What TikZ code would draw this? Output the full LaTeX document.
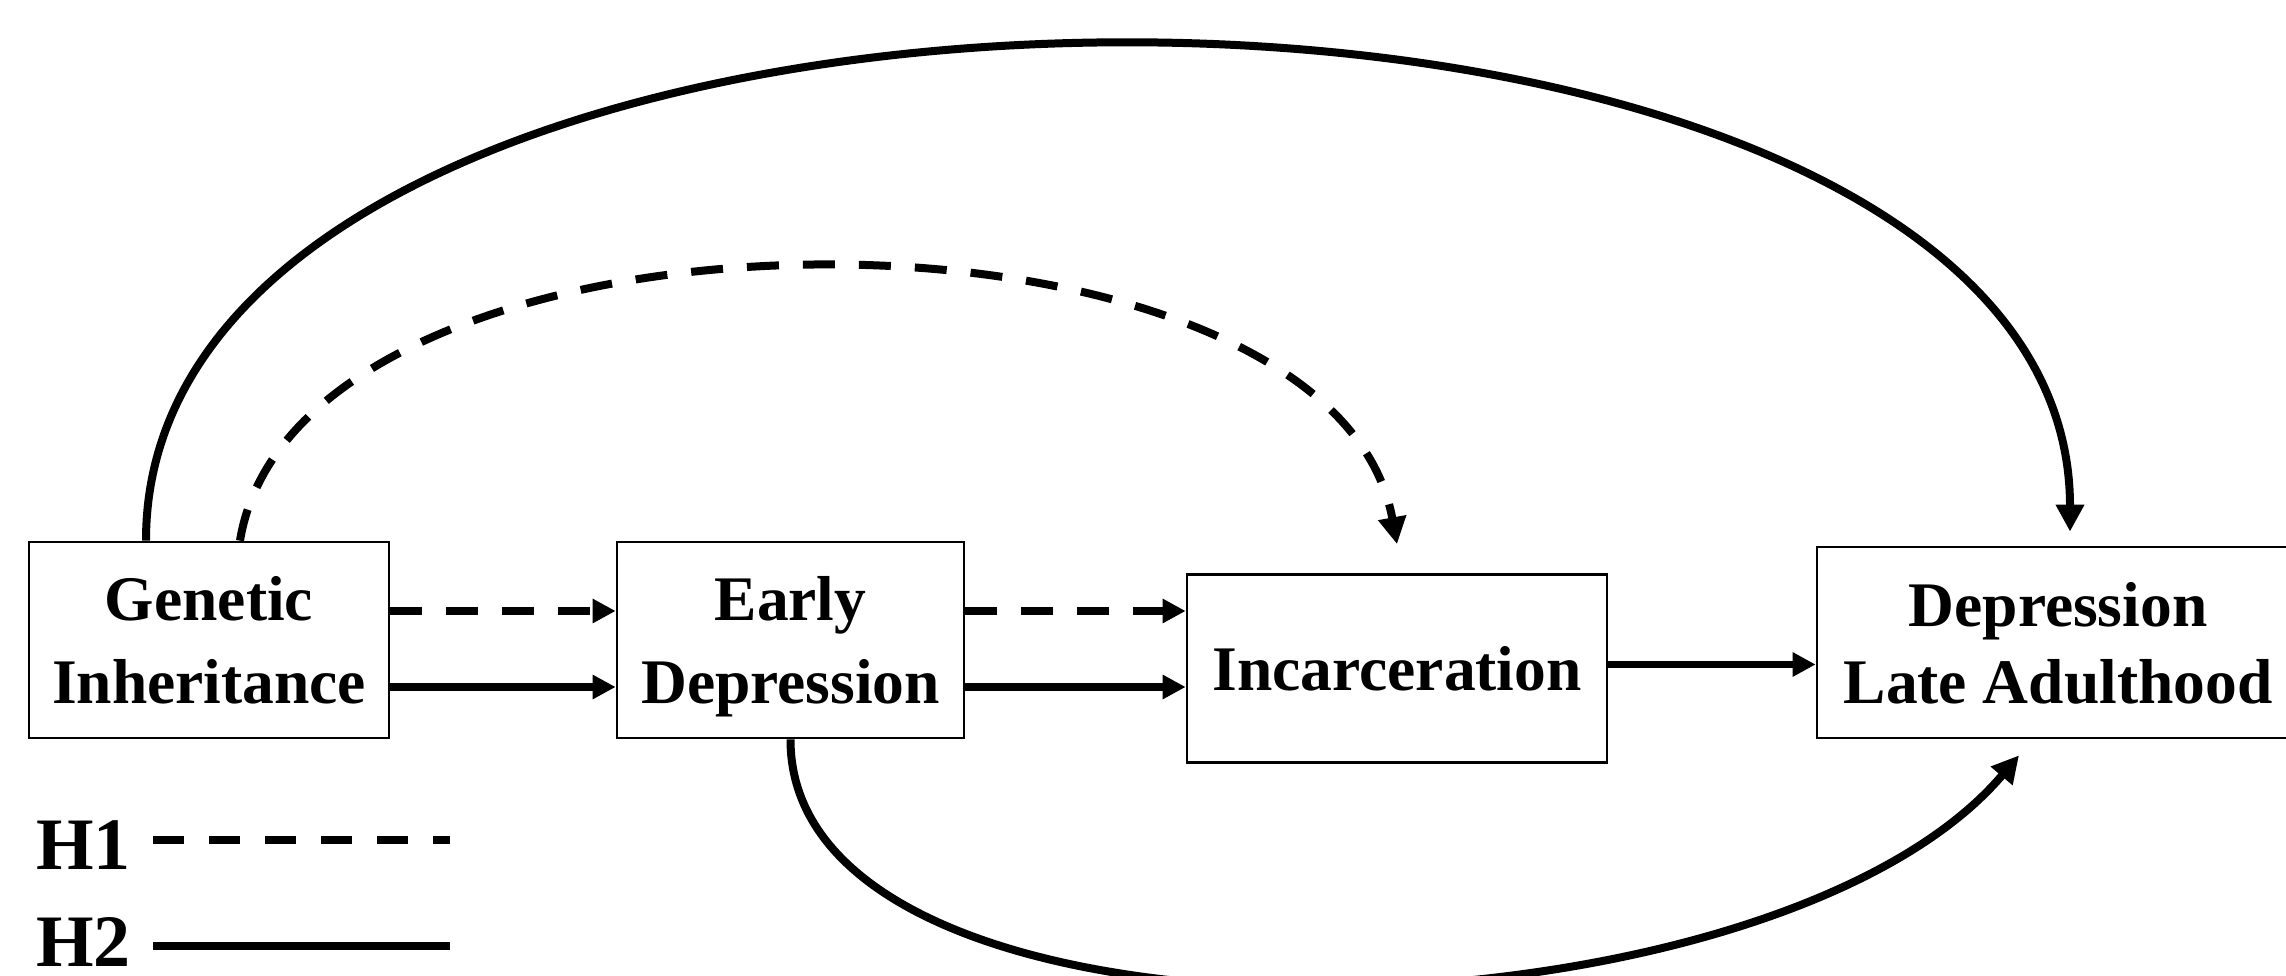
\documentclass[tikz,border=0pt]{standalone}
\usepackage{fontspec}
\setmainfont{Liberation Serif}
\usetikzlibrary{arrows.meta,calc}
\begin{document}
\begin{tikzpicture}[x=1pt,y=-1pt,
  box/.style={draw, line width=2.7pt, inner sep=0pt, align=center, text depth=0pt, font=\fontsize{63.5}{83}\selectfont\bfseries},
  link/.style={line width=7.5pt, -{Triangle[length=23pt,width=23pt]}},
  curve/.style={line width=8pt, -{Triangle[length=27pt,width=27pt]}},
  dashpat/.style={dash pattern=on 32pt off 24pt},
  legtext/.style={font=\fontsize{74}{80}\selectfont\bfseries, inner sep=0pt, anchor=base west},
  legline/.style={line width=7.5pt}
]
\useasboundingbox (0,0) rectangle (2286,976);

\node[box, minimum width=360pt, minimum height=196pt] (gen) at (209,640) {Genetic\\Inheritance};
\node[box, minimum width=347pt, minimum height=196pt] (early) at (790.5,640) {Early\\Depression};
\node[box, minimum width=420pt, minimum height=188pt] (incar) at (1397,668.5) {Incarceration};
\node[box, minimum width=482pt, minimum height=191pt, font=\fontsize{63.5}{77}\selectfont\bfseries] (dla) at (2058,642.5) {Depression\\Late Adulthood};

\coordinate (g1) at ([yshift=29pt]gen.east);
\coordinate (g2) at ([yshift=-47pt]gen.east);
\coordinate (e1) at ([yshift=29pt]early.east);
\coordinate (e2) at ([yshift=-47pt]early.east);
\coordinate (i1) at ([yshift=4pt]incar.east);

\draw[link, dashpat] (g1) -- (g1 -| early.west);
\draw[link] (g2) -- (g2 -| early.west);
\draw[link, dashpat] (e1) -- (e1 -| incar.west);
\draw[link] (e2) -- (e2 -| incar.west);
\draw[link] (i1) -- (i1 -| dla.west);

\draw[curve] ([xshift=-63pt]gen.north) .. controls (146,-118) and (2070,-118) .. ([xshift=12pt,yshift=14pt]dla.north);
\draw[curve, dashpat] ([xshift=31pt]gen.north) .. controls (300,176) and (1330,176) .. ([yshift=29pt]incar.north);
\draw[curve] (early.south) .. controls (790,1075) and (1765,1055) .. ([xshift=-39pt,yshift=-16pt]dla.south);

\node[legtext] (h1) at (36,869) {H1};
\node[legtext] (h2) at (36,966) {H2};
\coordinate (h1a) at (153,840);
\coordinate (h1b) at (450,840);
\coordinate (h2a) at (153,946);
\coordinate (h2b) at (450,946);
\draw[legline, dash pattern=on 31pt off 25pt] (h1a) -- (h1b);
\draw[legline] (h2a) -- (h2b);
\end{tikzpicture}
\end{document}
